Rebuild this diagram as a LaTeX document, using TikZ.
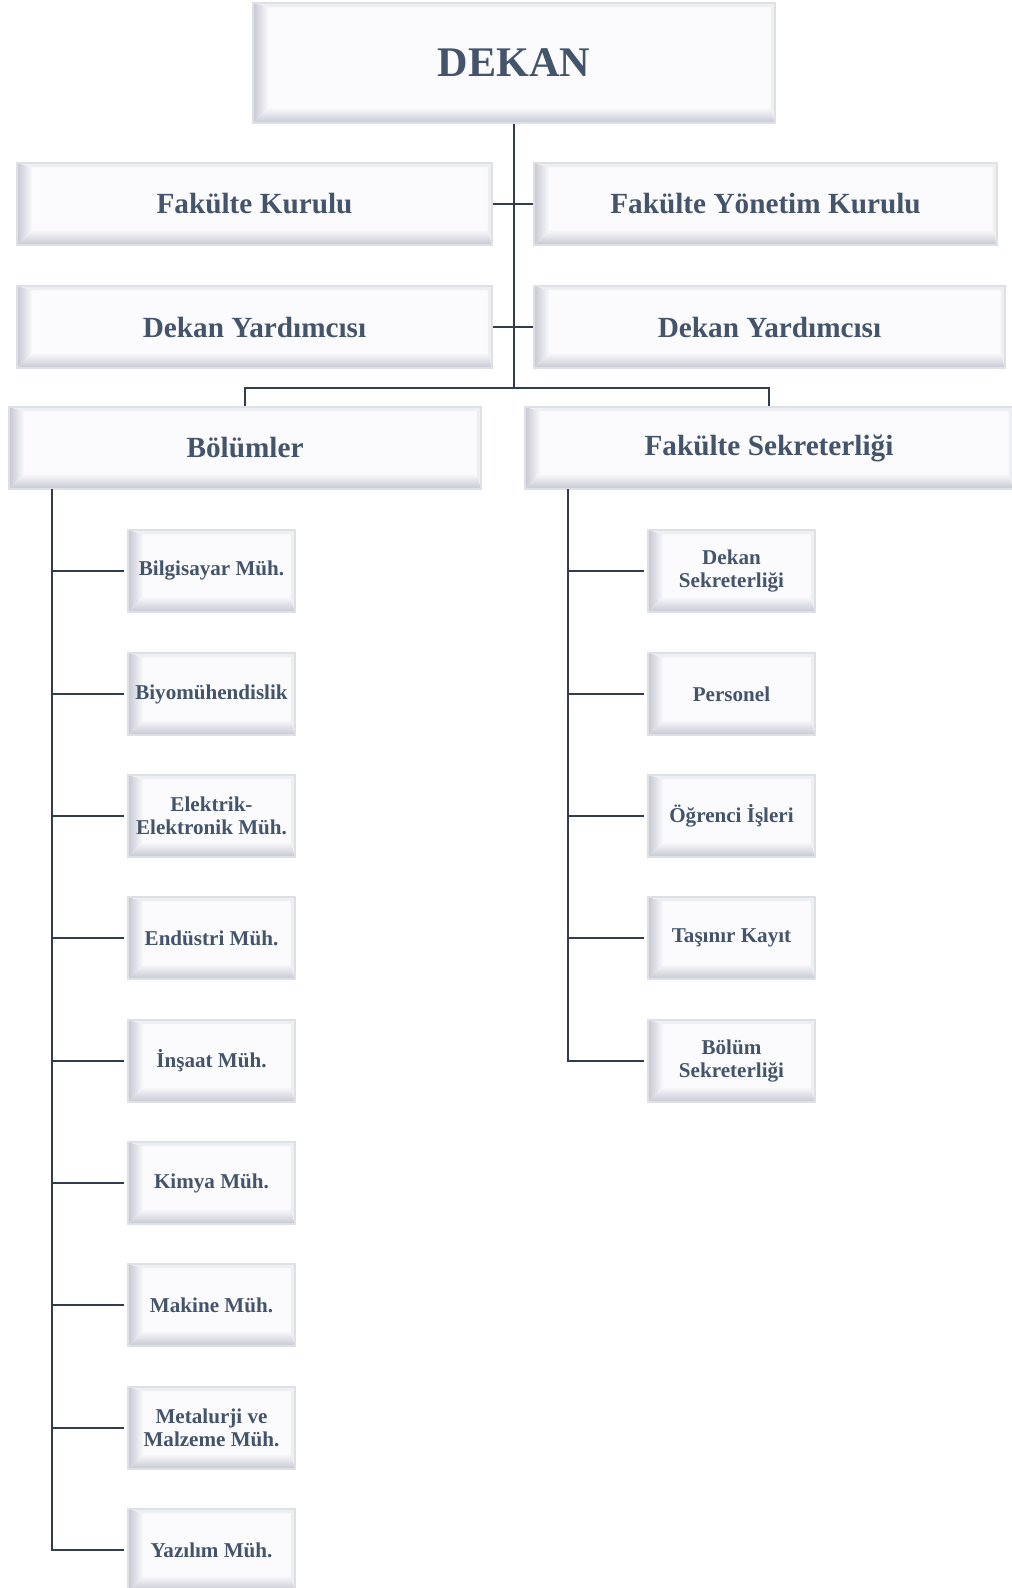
\documentclass[tikz,border=0pt]{standalone}
\usepackage{fontspec}
\setmainfont{Liberation Serif}
\usepackage{tikz}
\usetikzlibrary{calc,positioning}

\definecolor{boxfill}{HTML}{FBFBFD}
\definecolor{boxline}{HTML}{DDE0E5}
\definecolor{bevdark}{HTML}{C6C8D3}
\definecolor{bevlight}{HTML}{EEEFF3}
\definecolor{txt}{HTML}{44546A}
\definecolor{link}{HTML}{313D4F}

\newcommand{\bev}{11pt}
\newcommand{\bevt}{3pt}

\tikzset{
  bevel/.style={draw=boxline, line width=1pt, fill=boxfill, text=txt, align=center,
    path picture={
      \path (path picture bounding box.south west) coordinate (pa)
            (path picture bounding box.north east) coordinate (pb);
      \shade[left color=bevdark, right color=boxfill]
        (pa) -- ([shift={(\bev,\bev)}]pa) -- ([shift={(\bev,-\bevt)}]pa|-pb) -- (pa|-pb) -- cycle;
      \shade[bottom color=bevdark, top color=boxfill]
        (pa) -- ([shift={(\bev,\bev)}]pa) -- ([shift={(-\bevt,\bev)}]pb|-pa) -- (pb|-pa) -- cycle;
      \fill[bevlight]
        (pb) -- ([shift={(-\bevt,-\bevt)}]pb) -- ([shift={(-\bevt,\bev)}]pb|-pa) -- (pb|-pa) -- cycle;
      \fill[bevlight]
        (pb) -- ([shift={(-\bevt,-\bevt)}]pb) -- ([shift={(\bev,-\bevt)}]pa|-pb) -- (pa|-pb) -- cycle;
    }},
  topbox/.style={bevel, minimum width=13.05cm, minimum height=3cm, font=\bfseries\fontsize{30}{36}\selectfont},
  midbox/.style={bevel, minimum height=2.05cm, font=\bfseries\fontsize{20.8}{25}\selectfont},
  unitbox/.style={bevel, minimum width=4.175cm, minimum height=2.05cm, font=\bfseries\fontsize{15}{16}\selectfont},
  link/.style={draw=link, line width=2pt},
  tick/.style={link, shorten >=2.5pt}
}

\begin{document}
\begin{tikzpicture}[x=0.025cm, y=-0.025cm]
  \useasboundingbox (0,0) rectangle (1011,1588);

  \node[topbox] (dekan) at (514,63) {DEKAN};
  \coordinate (jn) at (514,388);
  \draw[link] (dekan.south) -- (jn);

  \node[midbox, minimum width=11.875cm] (fk) at (254.5,204) {Fakülte Kurulu};
  \node[midbox, minimum width=11.575cm] (fyk) at (765.5,204) {Fakülte Yönetim Kurulu};
  \node[midbox, minimum width=11.875cm] (dy1) at (254.5,327) {Dekan Yardımcısı};
  \node[midbox, minimum width=11.775cm] (dy2) at (769.5,327) {Dekan Yardımcısı};
  \draw[link] (fk.east) -- (fyk.west);
  \draw[link] (dy1.east) -- (dy2.west);

  \node[midbox, minimum width=11.8cm] (bol) at (245,448) {Bölümler};
  \node[midbox, minimum width=12.2cm] (fs) at (769,448) {Fakülte Sekreterliği};
  \draw[link] (bol.north) |- (jn) -| (fs.north);

  \node[unitbox] (bil) at (211.5,571) {Bilgisayar Müh.};
  \node[unitbox] (biy) at (211.5,694) {Biyomühendislik};
  \node[unitbox] (ele) at (211.5,816) {Elektrik-\\Elektronik Müh.};
  \node[unitbox] (end) at (211.5,938) {Endüstri Müh.};
  \node[unitbox] (ins) at (211.5,1061) {İnşaat Müh.};
  \node[unitbox] (kim) at (211.5,1183) {Kimya Müh.};
  \node[unitbox] (mak) at (211.5,1305) {Makine Müh.};
  \node[unitbox] (met) at (211.5,1428) {Metalurji ve\\Malzeme Müh.};
  \node[unitbox] (yaz) at (211.5,1550) {Yazılım Müh.};

  \coordinate (ltop) at (52,489);
  \draw[tick] (ltop) |- (bil.west);
  \draw[tick] (ltop) |- (biy.west);
  \draw[tick] (ltop) |- (ele.west);
  \draw[tick] (ltop) |- (end.west);
  \draw[tick] (ltop) |- (ins.west);
  \draw[tick] (ltop) |- (kim.west);
  \draw[tick] (ltop) |- (mak.west);
  \draw[tick] (ltop) |- (met.west);
  \draw[tick] (ltop) |- (yaz.west);

  \node[unitbox] (dks) at (731.5,571) {Dekan\\Sekreterliği};
  \node[unitbox] (per) at (731.5,694) {Personel};
  \node[unitbox] (ogr) at (731.5,816) {Öğrenci İşleri};
  \node[unitbox] (tas) at (731.5,938) {Taşınır Kayıt};
  \node[unitbox] (bsk) at (731.5,1061) {Bölüm\\Sekreterliği};

  \coordinate (rtop) at (568,489);
  \draw[tick] (rtop) |- (dks.west);
  \draw[tick] (rtop) |- (per.west);
  \draw[tick] (rtop) |- (ogr.west);
  \draw[tick] (rtop) |- (tas.west);
  \draw[tick] (rtop) |- (bsk.west);
\end{tikzpicture}
\end{document}
